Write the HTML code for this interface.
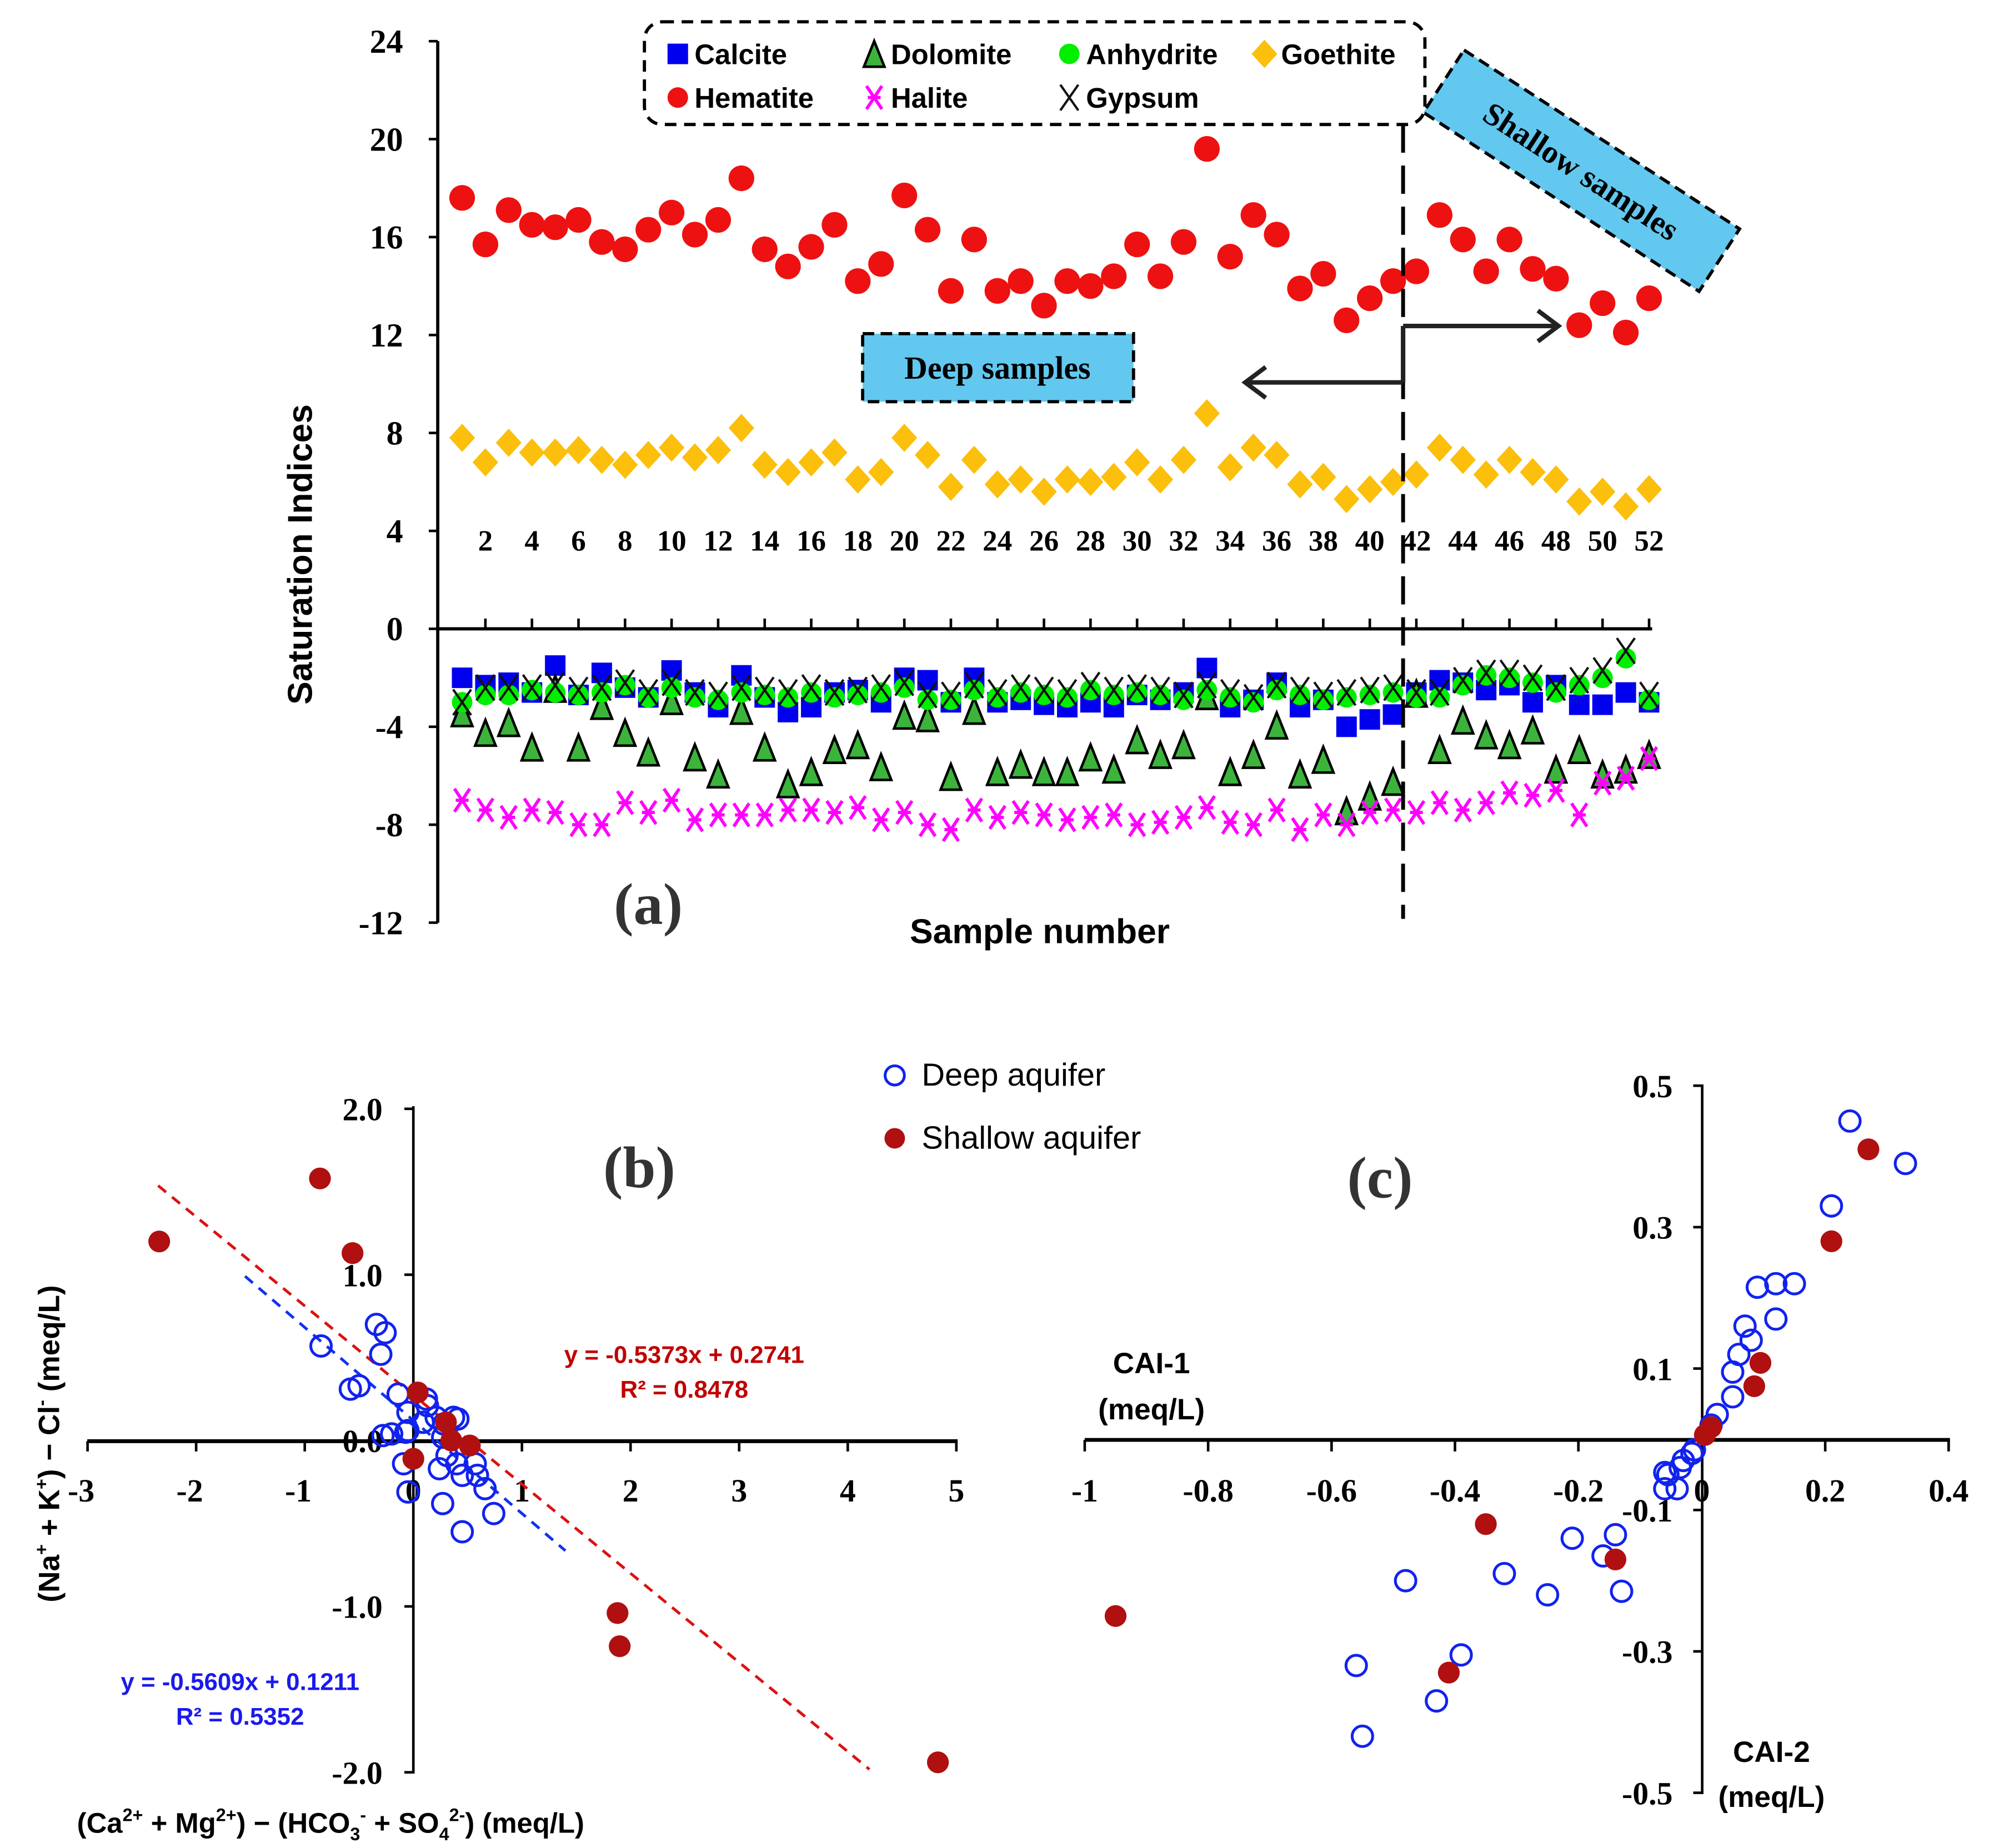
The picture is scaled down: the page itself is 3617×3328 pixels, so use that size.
<!DOCTYPE html>
<html><head><meta charset="utf-8"><style>
html,body{margin:0;padding:0;background:#fff}
svg{display:block}
.ser{font-family:"Liberation Serif",serif;font-weight:bold}
.sans{font-family:"Liberation Sans",sans-serif}
</style></head><body>
<svg id="fig" width="3617" height="3328" viewBox="0 0 1565 1440" preserveAspectRatio="none" xmlns="http://www.w3.org/2000/svg">
<g id="pa"></g>
<g id="pb"></g>
<g id="pc"></g>
</svg>
<script>
// ---------- Panel (a) data ----------
const aYTicks = [24, 20, 16, 12, 8, 4, 0, -4, -8, -12];
const aXLabels = [2,4,6,8,10,12,14,16,18,20,22,24,26,28,30,32,34,36,38,40,42,44,46,48,50,52];
const hematite = [17.6,15.7,17.1,16.5,16.4,16.7,15.8,15.5,16.3,17.0,16.1,16.7,18.4,15.5,14.8,15.6,16.5,14.2,14.9,17.7,16.3,13.8,15.9,13.8,14.2,13.2,14.2,14.0,14.4,15.7,14.4,15.8,19.6,15.2,16.9,16.1,13.9,14.5,12.6,13.5,14.2,14.6,16.9,15.9,14.6,15.9,14.7,14.3,12.4,13.3,12.1,13.5];
const goethite = [7.8,6.8,7.6,7.2,7.2,7.3,6.9,6.7,7.1,7.4,7.0,7.3,8.2,6.7,6.4,6.8,7.2,6.1,6.4,7.8,7.1,5.8,6.9,5.9,6.1,5.6,6.1,6.0,6.2,6.8,6.1,6.9,8.8,6.6,7.4,7.1,5.9,6.2,5.3,5.7,6.0,6.3,7.4,6.9,6.3,6.9,6.4,6.1,5.2,5.6,5.0,5.7];
const calcite = [-2.0,-2.3,-2.2,-2.6,-1.5,-2.7,-1.8,-2.4,-2.8,-1.7,-2.6,-3.2,-1.9,-2.8,-3.4,-3.2,-2.6,-2.5,-3.0,-2.0,-2.1,-3.0,-2.0,-3.0,-2.9,-3.1,-3.2,-3.0,-3.2,-2.7,-2.9,-2.6,-1.6,-3.2,-2.9,-2.2,-3.2,-2.9,-4.0,-3.7,-3.5,-2.6,-2.1,-2.2,-2.5,-2.3,-3.0,-2.3,-3.1,-3.1,-2.6,-3.0];
const dolomite = [-3.5,-4.3,-3.9,-4.9,-2.5,-4.9,-3.2,-4.3,-5.1,-3.0,-5.3,-6.0,-3.4,-4.9,-6.4,-5.9,-5.0,-4.8,-5.7,-3.6,-3.7,-6.1,-3.4,-5.9,-5.6,-5.9,-5.9,-5.3,-5.8,-4.6,-5.2,-4.8,-2.8,-5.9,-5.2,-4.0,-6.0,-5.4,-7.5,-6.9,-6.3,-2.7,-5.0,-3.8,-4.4,-4.8,-4.2,-5.8,-5.0,-6.0,-5.8,-5.2];
const anhydrite = [-3.0,-2.7,-2.7,-2.5,-2.6,-2.7,-2.6,-2.3,-2.8,-2.4,-2.8,-2.9,-2.6,-2.7,-2.8,-2.6,-2.8,-2.7,-2.6,-2.4,-2.9,-2.9,-2.5,-2.8,-2.6,-2.7,-2.8,-2.5,-2.7,-2.6,-2.7,-2.9,-2.5,-2.8,-3.0,-2.5,-2.7,-2.9,-2.8,-2.7,-2.6,-2.8,-2.8,-2.3,-1.9,-2.0,-2.2,-2.6,-2.3,-2.0,-1.2,-2.9];
const gypsum = [-3.0,-2.4,-2.4,-2.4,-2.3,-2.5,-2.4,-2.2,-2.6,-2.2,-2.6,-2.7,-2.4,-2.5,-2.6,-2.4,-2.6,-2.5,-2.4,-2.2,-2.7,-2.7,-2.3,-2.6,-2.4,-2.5,-2.6,-2.3,-2.5,-2.4,-2.5,-2.7,-2.3,-2.6,-2.8,-2.3,-2.5,-2.7,-2.6,-2.5,-2.4,-2.6,-2.6,-2.1,-1.8,-1.8,-2.0,-2.4,-2.1,-1.7,-0.9,-2.7];
const halite = [-7.0,-7.4,-7.7,-7.4,-7.5,-8.0,-8.0,-7.1,-7.5,-7.0,-7.8,-7.6,-7.6,-7.6,-7.4,-7.4,-7.5,-7.3,-7.8,-7.5,-8.0,-8.2,-7.4,-7.7,-7.5,-7.6,-7.8,-7.7,-7.6,-8.0,-7.9,-7.7,-7.3,-7.9,-8.0,-7.4,-8.2,-7.6,-8.0,-7.5,-7.4,-7.5,-7.1,-7.4,-7.1,-6.7,-6.8,-6.6,-7.6,-6.3,-6.1,-5.3];
// ---------- Panel (b) data ----------
const bXTicks = [-3,-2,-1,0,1,2,3,4,5];
const bYTicks = [2,1,0,-1,-2];
const bDeepX = [-0.85,-0.34,-0.26,-0.30,-0.58,-0.50,-0.14,0.12,0.13,-0.28,-0.20,-0.07,-0.05,-0.05,0.09,0.21,0.37,0.41,0.28,-0.09,-0.05,0.24,0.31,0.40,0.45,0.57,0.59,0.66,0.74,0.27,0.45,0.27];
const bDeepY = [0.57,0.70,0.65,0.52,0.31,0.33,0.28,0.25,0.21,0.03,0.04,0.05,0.17,0.06,0.11,0.14,0.14,0.13,0.10,-0.14,-0.31,-0.17,-0.09,-0.14,-0.21,-0.14,-0.21,-0.29,-0.44,-0.38,-0.55,0.02];
const bShalX = [-2.34,-0.86,-0.56,0.04,0.30,0.52,0.0,1.88,1.90,4.83,0.35];
const bShalY = [1.20,1.58,1.13,0.29,0.11,-0.03,-0.11,-1.04,-1.24,-1.94,0.0];
const bRedFit = [-0.5373, 0.2741, -2.35, 4.2];
const bBlueFit = [-0.5609, 0.1211, -1.55, 1.4];
// ---------- Panel (c) data ----------
const cXTicks = [-1,-0.8,-0.6,-0.4,-0.2,0,0.2,0.4];
const cXLabels = ["-1","-0.8","-0.6","-0.4","-0.2","0","0.2","0.4"];
const cYTicks = [0.5,0.3,0.1,-0.1,-0.3,-0.5];
const cDeepX = [0.24,0.33,0.21,0.09,0.12,0.15,0.12,0.07,0.08,0.06,0.05,0.05,0.025,0.015,-0.016,-0.03,-0.035,-0.055,-0.06,-0.04,-0.06,-0.012,-0.14,-0.21,-0.16,-0.13,-0.25,-0.32,-0.48,-0.39,-0.56,-0.43,-0.55];
const cDeepY = [0.45,0.39,0.33,0.215,0.22,0.22,0.17,0.16,0.14,0.12,0.095,0.06,0.035,0.02,-0.02,-0.03,-0.04,-0.05,-0.07,-0.07,-0.047,-0.015,-0.135,-0.14,-0.165,-0.215,-0.22,-0.19,-0.20,-0.305,-0.32,-0.37,-0.42];
const cShalX = [0.27,0.21,0.095,0.085,0.015,0.005,-0.35,-0.14,-0.41,-0.95];
const cShalY = [0.41,0.28,0.108,0.075,0.017,0.006,-0.12,-0.17,-0.33,-0.25];

const NS="http://www.w3.org/2000/svg";
function mk(parent, tag, attrs, txt){const e=document.createElementNS(NS,tag);for(const k in attrs)e.setAttribute(k,attrs[k]);if(txt!==undefined)e.textContent=txt;parent.appendChild(e);return e;}

// ================= PANEL A =================
const pa=document.getElementById('pa');
const ay=v=>490-v*19.08;
const ax=i=>360+i*18.13;
let e;
e=mk(pa,'line',{x1:341,y1:32,x2:341,y2:719,stroke:'#000','stroke-width':2.5});


e=mk(pa,'line',{x1:341,y1:490,x2:1287,y2:490,stroke:'#000','stroke-width':2.5});


aYTicks.forEach(v=>{
  mk(pa,'line',{x1:334,y1:ay(v),x2:341,y2:ay(v),stroke:'#000','stroke-width':2});
  e=mk(pa,'text',{x:314,y:ay(v)+9,'text-anchor':'end','font-size':26,class:'ser'},String(v));
  
  
});
aXLabels.forEach(n=>{
  mk(pa,'line',{x1:ax(n-1),y1:482,x2:ax(n-1),y2:490,stroke:'#000','stroke-width':2});
  e=mk(pa,'text',{x:ax(n-1),y:429,'text-anchor':'middle','font-size':23,class:'ser'},String(n));
  
  
});
e=mk(pa,'text',{x:0,y:0,transform:'translate(243,432) rotate(-90)','text-anchor':'middle','font-size':27,'font-weight':'bold',class:'sans'},'Saturation Indices');


e=mk(pa,'text',{x:810,y:735,'text-anchor':'middle','font-size':27,'font-weight':'bold',class:'sans'},'Sample number');


e=mk(pa,'text',{x:505,y:720,'text-anchor':'middle','font-size':46,fill:'#333',class:'ser'},'(a)');



function square(g,x,y){return mk(g,'rect',{x:x-8,y:y-8,width:16,height:16,fill:'#0000ee'});}
function tri(g,x,y){return mk(g,'path',{d:`M${x},${y-11} L${x+8},${y+9} L${x-8},${y+9} Z`,fill:'#3cb43c',stroke:'#000','stroke-width':2});}
function circ(g,x,y,r,f){return mk(g,'circle',{cx:x,cy:y,r:r,fill:f});}
function diam(g,x,y){return mk(g,'path',{d:`M${x},${y-11} L${x+10},${y} L${x},${y+11} L${x-10},${y} Z`,fill:'#fbbf0c'});}
function xmark(g,x,y){return mk(g,'path',{d:`M${x-7},${y-10} L${x+7},${y+10} M${x+7},${y-10} L${x-7},${y+10}`,stroke:'#111','stroke-width':1.8,fill:'none'});}
function star(g,x,y){return mk(g,'path',{d:`M${x-6},${y-9} L${x+6},${y+9} M${x+6},${y-9} L${x-6},${y+9} M${x-5},${y} L${x+5},${y}`,stroke:'#ff00ff','stroke-width':2.5,fill:'none'});}

const gH=mk(pa,'g',{});
hematite.forEach((v,i)=>{e=circ(gH,ax(i),ay(v),10,'#ee1111');});
const gG=mk(pa,'g',{});
goethite.forEach((v,i)=>{e=diam(gG,ax(i),ay(v));});
const gC=mk(pa,'g',{});
calcite.forEach((v,i)=>{e=square(gC,ax(i),ay(v));});
const gD=mk(pa,'g',{});
dolomite.forEach((v,i)=>{e=tri(gD,ax(i),ay(v));});
const gA=mk(pa,'g',{});
anhydrite.forEach((v,i)=>{e=circ(gA,ax(i),ay(v),8,'#00ee00');});
const gY=mk(pa,'g',{});
gypsum.forEach((v,i)=>{e=xmark(gY,ax(i),ay(v));});
const gL=mk(pa,'g',{});
halite.forEach((v,i)=>{e=star(gL,ax(i),ay(v));});

// legend
const lg=mk(pa,'g',{});
mk(lg,'rect',{x:502,y:17,width:608,height:80,rx:14,fill:'none',stroke:'#000','stroke-width':2.5,'stroke-dasharray':'9,6'});
square(lg,528,42);tri(lg,681,43);circ(lg,833,42,8,'#00ee00');diam(lg,985,42);
circ(lg,528,76,8,'#ee1111');star(lg,681,76);xmark(lg,833,76);
[['Calcite',541,50],['Dolomite',694,50],['Anhydrite',846,50],['Goethite',998,50],['Hematite',541,84],['Halite',694,84],['Gypsum',846,84]].forEach(t=>{
  e=mk(lg,'text',{x:t[1],y:t[2],'font-size':22,'font-weight':'bold',class:'sans'},t[0]);
  
  
});
// divider & arrows
e=mk(pa,'line',{x1:1093,y1:97,x2:1093,y2:716,stroke:'#000','stroke-width':3,'stroke-dasharray':'22,10'});


e=mk(pa,'path',{d:'M1093,254 L1213,254 M1198,242 L1214,254 L1198,266 M1093,298 L971,298 M986,286 L970,298 L986,310 M1093,254 L1093,298',stroke:'#222','stroke-width':3.5,fill:'none'});


const db=mk(pa,'g',{});
mk(db,'rect',{x:672,y:260,width:211,height:53,fill:'#62c8ef',stroke:'#000','stroke-width':2.5,'stroke-dasharray':'9,5'});
mk(db,'text',{x:777,y:295,'text-anchor':'middle','font-size':25,class:'ser'},'Deep  samples');
const sb=mk(pa,'g',{transform:'translate(1232,133) rotate(33)'});
mk(sb,'rect',{x:-128,y:-29,width:256,height:58,fill:'#62c8ef',stroke:'#000','stroke-width':2.5,'stroke-dasharray':'9,5'});
mk(sb,'text',{x:0,y:9,'text-anchor':'middle','font-size':25,class:'ser'},'Shallow  samples');

// ================= PANEL B =================
const pb=document.getElementById('pb');
const bx=v=>322+v*84.6;
const by=v=>1122.5-v*129.25;
e=mk(pb,'line',{x1:68,y1:1123,x2:746,y2:1123,stroke:'#000','stroke-width':3});

e=mk(pb,'line',{x1:322,y1:862,x2:322,y2:1382,stroke:'#000','stroke-width':2});

bXTicks.forEach(v=>{
  mk(pb,'line',{x1:bx(v),y1:1123,x2:bx(v),y2:1131,stroke:'#000','stroke-width':2});
  e=mk(pb,'text',{x:bx(v)-(v<0?5:0),y:1170,'text-anchor':'middle','font-size':25,class:'ser'},String(v));
  
});
bYTicks.forEach(v=>{
  mk(pb,'line',{x1:315,y1:by(v),x2:322,y2:by(v),stroke:'#000','stroke-width':2});
  e=mk(pb,'text',{x:298,y:by(v)+9,'text-anchor':'end','font-size':25,class:'ser'},v.toFixed(1));
  
});
e=mk(pb,'line',{x1:bx(bRedFit[2]),y1:by(bRedFit[0]*bRedFit[2]+bRedFit[1]),x2:bx(bRedFit[3]),y2:by(bRedFit[0]*bRedFit[3]+bRedFit[1]),stroke:'#dd1111','stroke-width':2.2,'stroke-dasharray':'8,6'});

e=mk(pb,'line',{x1:bx(bBlueFit[2]),y1:by(bBlueFit[0]*bBlueFit[2]+bBlueFit[1]),x2:bx(bBlueFit[3]),y2:by(bBlueFit[0]*bBlueFit[3]+bBlueFit[1]),stroke:'#1133ee','stroke-width':2.2,'stroke-dasharray':'8,6'});

bDeepX.forEach((v,i)=>{e=mk(pb,'circle',{cx:bx(v),cy:by(bDeepY[i]),r:8,fill:'none',stroke:'#1122ee','stroke-width':2.2});
  });
bShalX.forEach((v,i)=>{e=mk(pb,'circle',{cx:bx(v),cy:by(bShalY[i]),r:8.5,fill:'#b01010'});
  });
e=mk(pb,'text',{x:498,y:925,'text-anchor':'middle','font-size':46,fill:'#333',class:'ser'},'(b)');

e=mk(pb,'text',{x:0,y:0,transform:'translate(46,1125) rotate(-90)','text-anchor':'middle','font-size':23,'font-weight':'bold',class:'sans'});
e.innerHTML='(Na<tspan font-size="14" dy="-9">+</tspan><tspan dy="9"> + K</tspan><tspan font-size="14" dy="-9">+</tspan><tspan dy="9">) − Cl</tspan><tspan font-size="14" dy="-9">-</tspan><tspan dy="9"> (meq/L)</tspan>';

e=mk(pb,'text',{x:60,y:1428,'font-size':22,'font-weight':'bold',class:'sans'});
e.innerHTML='(Ca<tspan font-size="14" dy="-9">2+</tspan><tspan dy="9"> + Mg</tspan><tspan font-size="14" dy="-9">2+</tspan><tspan dy="9">) − (HCO</tspan><tspan font-size="14" dy="6">3</tspan><tspan font-size="14" dy="-15">-</tspan><tspan dy="9"> + SO</tspan><tspan font-size="14" dy="6">4</tspan><tspan font-size="14" dy="-15">2-</tspan><tspan dy="9">)  (meq/L)</tspan>';

[['y = -0.5373x + 0.2741',533,1062,'#c00000'],['R² = 0.8478',533,1089,'#c00000'],['y = -0.5609x + 0.1211',187,1317,'#1a1aee'],['R² = 0.5352',187,1344,'#1a1aee']].forEach(t=>{
  e=mk(pb,'text',{x:t[1],y:t[2],'text-anchor':'middle','font-size':19,'font-weight':'bold',fill:t[3],class:'sans'},t[0]);
  
});
// shared legend
const lg2=mk(pb,'g',{});
mk(lg2,'circle',{cx:697,cy:838,r:7.5,fill:'none',stroke:'#1122ee','stroke-width':2.2});
mk(lg2,'circle',{cx:697,cy:887,r:8,fill:'#b01010'});
e=mk(lg2,'text',{x:718,y:846,'font-size':25,class:'sans'},'Deep aquifer');

e=mk(lg2,'text',{x:718,y:895,'font-size':25,class:'sans'},'Shallow aquifer');


// ================= PANEL C =================
const pc=document.getElementById('pc');
const cx=v=>1325.7+v*480.7;
const cy=v=>1121.5-v*551;
e=mk(pc,'line',{x1:845,y1:1122,x2:1519,y2:1122,stroke:'#000','stroke-width':3});

e=mk(pc,'line',{x1:1326,y1:845,x2:1326,y2:1398,stroke:'#000','stroke-width':2});

cXTicks.forEach((v,i)=>{
  mk(pc,'line',{x1:cx(v),y1:1122,x2:cx(v),y2:1131,stroke:'#000','stroke-width':2});
  e=mk(pc,'text',{x:cx(v),y:1170,'text-anchor':'middle','font-size':25,class:'ser'},cXLabels[i]);
  
});
cYTicks.forEach(v=>{
  mk(pc,'line',{x1:1319,y1:cy(v),x2:1326,y2:cy(v),stroke:'#000','stroke-width':2});
  e=mk(pc,'text',{x:1303,y:cy(v)+9,'text-anchor':'end','font-size':25,class:'ser'},String(v));
  
});
cDeepX.forEach((v,i)=>{e=mk(pc,'circle',{cx:cx(v),cy:cy(cDeepY[i]),r:8,fill:'none',stroke:'#1122ee','stroke-width':2.2});
  });
cShalX.forEach((v,i)=>{e=mk(pc,'circle',{cx:cx(v),cy:cy(cShalY[i]),r:8.5,fill:'#b01010'});
  });
e=mk(pc,'text',{x:1075,y:933,'text-anchor':'middle','font-size':46,fill:'#333',class:'ser'},'(c)');

[['CAI-1',897,1070,'c-x-axis-title'],['(meq/L)',897,1106,'c-x-axis-unit'],['CAI-2',1380,1373,'c-y-axis-title'],['(meq/L)',1380,1408,'c-y-axis-unit']].forEach(t=>{
  e=mk(pc,'text',{x:t[1],y:t[2],'text-anchor':'middle','font-size':23,'font-weight':'bold',class:'sans'},t[0]);
  
  
});
</script>
</body></html>
